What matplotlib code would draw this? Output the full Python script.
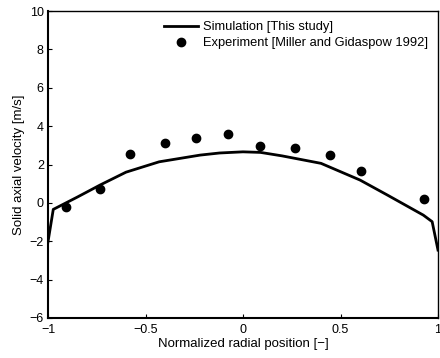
import matplotlib.pyplot as plt
import numpy as np

plt.rcParams['font.family'] = ['Liberation Sans', 'DejaVu Sans']

# simulation profile
sim_x = [-1.0, -0.973, -0.85, -0.733, -0.6, -0.43, -0.22, -0.12, 0.0, 0.09, 0.2, 0.4, 0.6, 0.74, 0.925, 0.97, 1.0]
sim_y = [-2.03, -0.34, 0.3, 0.93, 1.6, 2.14, 2.49, 2.6, 2.66, 2.63, 2.45, 2.06, 1.19, 0.41, -0.64, -0.98, -2.46]

# experiment points
exp_x = [-0.908, -0.733, -0.579, -0.40, -0.241, -0.077, 0.087, 0.267, 0.446, 0.604, 0.928]
exp_y = [-0.22, 0.72, 2.55, 3.13, 3.37, 3.57, 2.97, 2.87, 2.50, 1.67, 0.20]

xticks = [-1, -0.5, 0, 0.5, 1]
yticks = [-6, -4, -2, 0, 2, 4, 6, 8, 10]

fig = plt.figure(figsize=(4.4, 3.58), dpi=100)
ax = fig.add_axes([48/440, 1 - 318/358, 390/440, 307/358])

ax.plot(sim_x, sim_y, 'k-', lw=2, label='Simulation [This study]')
ax.plot(exp_x, exp_y, 'ko', ms=6, label='Experiment [Miller and Gidaspow 1992]')

ax.set_xlim(-1, 1)
ax.set_ylim(-6, 10)
ax.set_xticks(xticks)
ax.set_xticklabels(['\u22121', '\u22120.5', '0', '0.5', '1'])
ax.set_yticks(yticks)
ax.set_yticklabels([str(v).replace('-', '\u2212') for v in yticks])
ax.tick_params(direction='in', length=3, labelsize=9, width=0.8)
ax.tick_params(axis='x', pad=4)
ax.tick_params(axis='y', pad=3)
ax.set_xlabel('Normalized radial position [\u2212]', fontsize=9.5, labelpad=1.5)
ax.set_ylabel('Solid axial velocity [m/s]', fontsize=9.5, labelpad=3)

for s in ['left', 'bottom']:
    ax.spines[s].set_linewidth(1.5)
for s in ['top', 'right']:
    ax.spines[s].set_linewidth(1.0)

ax.legend(loc='upper right', frameon=False, fontsize=9.3, handlelength=2.6,
          handletextpad=0.4, labelspacing=0.3, borderaxespad=0.4)

fig.savefig('out.png', dpi=100)
